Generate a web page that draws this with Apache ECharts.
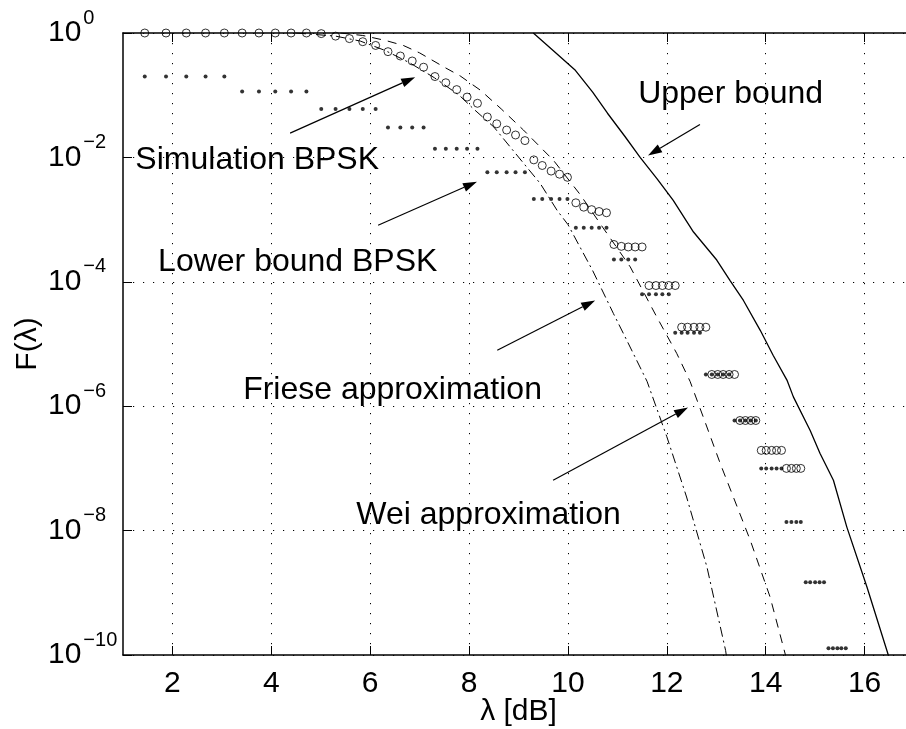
<!DOCTYPE html>
<html>
<head>
<meta charset="utf-8">
<script src="https://cdn.jsdelivr.net/npm/echarts@6/dist/echarts.min.js"></script>
<style>
  html, body { margin: 0; padding: 0; background: #fff; }
  #chart { width: 906px; height: 729px; }
</style>
</head>
<body>
<div id="chart"></div>
<script>
// λ sample points (dB) shared by the simulated and lower-bound BPSK points
const lambdaDb = [
  1.44, 1.87, 2.28, 2.67, 3.05,
  3.41, 3.75, 4.08, 4.40, 4.71,
  5.01, 5.30, 5.58, 5.85, 6.11,
  6.36, 6.61, 6.85, 7.08,
  7.31, 7.53, 7.75, 7.96, 8.17,
  8.37, 8.56, 8.76, 8.94, 9.13,
  9.31, 9.48, 9.66, 9.83, 9.99,
  10.16, 10.32, 10.48, 10.63, 10.78,
  10.93, 11.08, 11.22, 11.36,
  11.50, 11.64, 11.78, 11.91, 12.04,
  12.17, 12.30, 12.42, 12.55, 12.67,
  12.79, 12.91, 13.03, 13.14, 13.26,
  13.37, 13.48, 13.59, 13.70, 13.80,
  13.91, 14.01, 14.12, 14.22, 14.32,
  14.42, 14.52, 14.62, 14.71,
  14.81, 14.90, 15.00, 15.09, 15.18,
  15.27, 15.36, 15.45, 15.53, 15.62
];

// log10 F(λ) of the lower bound, one value per λ point
const lowerBoundLog = [
  -0.70, -0.70, -0.70, -0.70, -0.70,
  -0.94, -0.94, -0.94, -0.94, -0.94,
  -1.22, -1.22, -1.22, -1.22, -1.22,
  -1.52, -1.52, -1.52, -1.52,
  -1.86, -1.86, -1.86, -1.86, -1.86,
  -2.24, -2.24, -2.24, -2.24, -2.24,
  -2.67, -2.67, -2.67, -2.67, -2.67,
  -3.13, -3.13, -3.13, -3.13, -3.13,
  -3.64, -3.64, -3.64, -3.64,
  -4.20, -4.20, -4.20, -4.20, -4.20,
  -4.82, -4.82, -4.82, -4.82, -4.82,
  -5.49, -5.49, -5.49, -5.49, -5.49,
  -6.23, -6.23, -6.23, -6.23, -6.23,
  -7.00, -7.00, -7.00, -7.00, -7.00,
  -7.86, -7.86, -7.86, -7.86,
  -8.83, -8.83, -8.83, -8.83, -8.83,
  -9.89, -9.89, -9.89, -9.89, -9.89
];

// log10 F(λ) from simulation (first points of the λ grid)
const simulationLog = [
  0, 0, 0, 0, 0,
  0, 0, 0, 0, 0,
  -0.01, -0.05, -0.09, -0.14, -0.20,
  -0.30, -0.37, -0.45, -0.55,
  -0.70, -0.80, -0.91, -1.03, -1.13,
  -1.35, -1.46, -1.56, -1.64, -1.73,
  -2.04, -2.13, -2.22, -2.27, -2.32,
  -2.73, -2.80, -2.84, -2.87, -2.89,
  -3.40, -3.43, -3.44, -3.44, -3.44,
  -4.06, -4.06, -4.06, -4.06, -4.06,
  -4.73, -4.73, -4.73, -4.73, -4.73,
  -5.49, -5.49, -5.49, -5.49, -5.49,
  -6.23, -6.23, -6.23, -6.23,
  -6.71, -6.71, -6.71, -6.71, -6.71,
  -7.00, -7.00, -7.00, -7.00
];

// Upper bound: λ (dB) and log10 F(λ)
const upperLambda = [9.30, 9.70, 10.15, 10.50, 10.80, 11.15, 11.46, 11.80, 12.13, 12.54, 13.01, 13.28, 13.55, 13.89, 14.15, 14.43, 14.56, 14.90, 15.10, 15.37, 15.64, 16.05, 16.48, 16.55];
const upperLog    = [0, -0.28, -0.60, -0.95, -1.29, -1.66, -2.00, -2.34, -2.69, -3.20, -3.65, -3.98, -4.30, -4.78, -5.18, -5.58, -5.85, -6.39, -6.76, -7.19, -7.94, -8.91, -10.00, -10.15];

// Wei approximation
const weiLambda = [5.40, 5.85, 6.31, 6.67, 7.00, 7.50, 7.82, 8.23, 8.65, 9.10, 9.71, 10.25, 10.70, 11.26, 11.80, 12.20, 12.47, 12.74, 13.08, 13.69, 14.09, 14.40, 14.45];
const weiLog    = [0, -0.04, -0.12, -0.20, -0.32, -0.55, -0.69, -0.92, -1.22, -1.56, -2.05, -2.60, -3.12, -3.76, -4.57, -5.15, -5.60, -6.18, -6.92, -8.16, -9.07, -10.00, -10.15];

// Friese approximation
const frieseLambda = [4.50, 5.30, 5.80, 6.30, 6.80, 7.30, 7.80, 8.09, 8.50, 8.83, 9.44, 9.78, 10.00, 10.50, 10.92, 11.19, 11.60, 12.00, 12.40, 12.81, 13.19, 13.22];
const frieseLog    = [0, -0.05, -0.13, -0.28, -0.48, -0.72, -1.00, -1.22, -1.51, -1.83, -2.42, -2.85, -3.08, -3.82, -4.51, -4.94, -5.60, -6.49, -7.46, -8.58, -9.93, -10.10];

// Axis ticks
const xTicks = [2, 4, 6, 8, 10, 12, 14, 16];

const FONT = '"Liberation Sans", Arial, Helvetica, sans-serif';
const pow10 = e => Math.pow(10, e);
const pairs = (xs, logs) => xs.map((x, i) => [x, pow10(logs[i])]);

// Text notes with arrows, anchored in data space: [λ, log10 F]
const notes = [
  { text: 'Upper bound',          at: [11.42, -0.98], from: [12.67, -1.47], to: [11.62, -1.97] },
  { text: 'Simulation BPSK',      at: [1.25, -2.05],  from: [4.38, -1.61],  to: [6.91, -0.71] },
  { text: 'Lower bound BPSK',     at: [1.71, -3.69],  from: [6.16, -3.09],  to: [8.16, -2.39] },
  { text: 'Friese approximation', at: [3.43, -5.74],  from: [8.57, -5.10],  to: [10.55, -4.30] },
  { text: 'Wei approximation',    at: [5.72, -7.75],  from: [9.70, -7.19],  to: [12.43, -6.02] }
];

const chart = echarts.init(document.getElementById('chart'), null, { renderer: 'canvas' });

const axisLineStyle = { color: '#000', width: 1.5 };
const gridLineStyle = { color: '#000', width: 1, type: [1.2, 8.8] };

const option = {
  animation: false,
  backgroundColor: '#fff',
  grid: { left: 123, top: 33, width: 791, height: 622, show: false, containLabel: false, outerBoundsMode: 'none' },
  xAxis: [
    {
      type: 'value', min: 1, max: 17, position: 'bottom',
      axisLine: { show: true, onZero: false, lineStyle: axisLineStyle },
      axisTick: { show: true, inside: true, length: 9, customValues: xTicks, lineStyle: { color: '#000', width: 1 } },
      axisLabel: { show: true, customValues: xTicks, color: '#000', fontFamily: FONT, fontSize: 30, margin: 14 },
      splitLine: { show: true, lineStyle: gridLineStyle },
      name: 'λ [dB]', nameLocation: 'middle', nameGap: 42, nameMoveOverlap: false,
      nameTextStyle: { color: '#000', fontFamily: FONT, fontSize: 30 }
    },
    {
      type: 'value', min: 1, max: 17, position: 'top',
      axisLine: { show: true, onZero: false, lineStyle: axisLineStyle },
      axisTick: { show: true, inside: true, length: 9, customValues: xTicks, lineStyle: { color: '#000', width: 1 } },
      axisLabel: { show: false },
      splitLine: { show: false }
    }
  ],
  yAxis: [
    {
      type: 'log', logBase: 10, min: 1e-10, max: 1, interval: 2,
      axisLine: { show: true, onZero: false, lineStyle: axisLineStyle },
      axisTick: { show: true, inside: true, length: 9, lineStyle: { color: '#000', width: 1 } },
      minorTick: { show: false },
      splitLine: { show: true, lineStyle: gridLineStyle },
      axisLabel: {
        color: '#000', align: 'left', margin: 75,
        formatter: v => {
          const e = Math.round(Math.log10(v));
          return '{b|10}{s|' + (e < 0 ? '\u2212' + (-e) : e) + '}';
        },
        rich: {
          b: { fontFamily: FONT, fontSize: 30, color: '#000', lineHeight: 50 },
          s: { fontFamily: FONT, fontSize: 20, color: '#000', verticalAlign: 'top', padding: [0, 0, 0, 2] }
        }
      },
      name: 'F(λ)', nameLocation: 'middle', nameGap: 80, nameRotate: 90, nameMoveOverlap: false,
      nameTextStyle: { color: '#000', fontFamily: FONT, fontSize: 30 }
    }
  ],
  series: [
    {
      name: 'Upper bound', type: 'line', showSymbol: false, clip: true,
      data: pairs(upperLambda, upperLog),
      lineStyle: { color: '#000', width: 1.3 }
    },
    {
      name: 'Wei approximation', type: 'line', showSymbol: false, clip: true,
      data: pairs(weiLambda, weiLog),
      lineStyle: { color: '#000', width: 1, type: [9, 7] }
    },
    {
      name: 'Friese approximation', type: 'line', showSymbol: false, clip: true,
      data: pairs(frieseLambda, frieseLog),
      lineStyle: { color: '#000', width: 1, type: [10, 4, 2, 4] }
    },
    {
      name: 'Lower bound BPSK', type: 'scatter', symbol: 'circle', symbolSize: 4,
      data: lowerBoundLog.map((e, i) => [lambdaDb[i], pow10(e)]),
      itemStyle: { color: '#000' }
    },
    {
      name: 'Simulation BPSK', type: 'scatter', symbol: 'circle', symbolSize: 8,
      data: simulationLog.map((e, i) => [lambdaDb[i], pow10(e)]),
      itemStyle: { color: 'rgba(0,0,0,0)', borderColor: '#000', borderWidth: 1 }
    }
  ]
};

chart.setOption(option);

// Annotations: text and arrows positioned through the axes
const toPx = p => chart.convertToPixel({ gridIndex: 0 }, [p[0], pow10(p[1])]);
const graphics = [];
notes.forEach(n => {
  const t = toPx(n.at);
  graphics.push({
    type: 'text', x: t[0], y: t[1],
    style: { text: n.text, fill: '#000', font: '32px ' + FONT, textAlign: 'left', textVerticalAlign: 'middle' }
  });
  const a = toPx(n.from), b = toPx(n.to);
  const dx = b[0] - a[0], dy = b[1] - a[1];
  const len = Math.hypot(dx, dy), ux = dx / len, uy = dy / len;
  const hl = 14, hw = 4.5;
  const bx = b[0] - ux * hl, by = b[1] - uy * hl;
  graphics.push({
    type: 'line',
    shape: { x1: a[0], y1: a[1], x2: bx, y2: by },
    style: { stroke: '#000', lineWidth: 1.2 }
  });
  graphics.push({
    type: 'polygon',
    shape: { points: [[b[0], b[1]], [bx - uy * hw, by + ux * hw], [bx + uy * hw, by - ux * hw]] },
    style: { fill: '#000' }
  });
});
chart.setOption({ graphic: graphics });
</script>
</body>
</html>
